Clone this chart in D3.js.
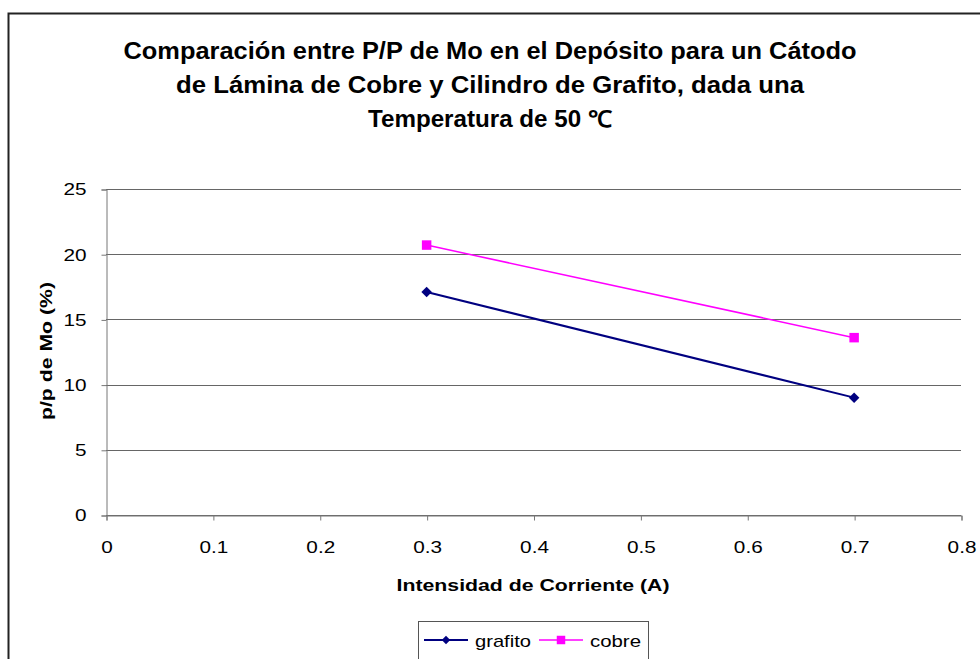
<!DOCTYPE html>
<html>
<head>
<meta charset="utf-8">
<script src="https://cdn.jsdelivr.net/npm/d3@7"></script>
<style>
  body { margin: 0; background: #fff; }
  svg { display: block; font-family: "Liberation Sans", Arial, sans-serif; }
</style>
</head>
<body>
<div id="chart"></div>
<script>
var corriente = [0.3, 0.7];
var grafito = [17.1, 9.0];
var cobre = [20.7, 13.6];
var seriesNames = ["grafito", "cobre"];
var titleLines = [
  "Comparación entre P/P de Mo en el Depósito para un Cátodo",
  "de Lámina de Cobre y Cilindro de Grafito, dada una",
  "Temperatura de 50 \u2103"
];
var titleWidths = [733, 628, 244];
var yTicks = [0, 5, 10, 15, 20, 25];
var xTicks = [0, 0.1, 0.2, 0.3, 0.4, 0.5, 0.6, 0.7, 0.8];

var width = 980, height = 659;
var svg = d3.select("#chart").append("svg")
  .attr("width", width)
  .attr("height", height);

// the reference text is drawn a bit wide, stretch glyphs to a given width
function fitWidth(sel, w) {
  sel.attr("textLength", w).attr("lengthAdjust", "spacingAndGlyphs");
}
function widen(sel, factor) {
  sel.each(function() {
    var w = this.getComputedTextLength();
    d3.select(this).attr("textLength", w * factor).attr("lengthAdjust", "spacingAndGlyphs");
  });
}

// outer chart frame (runs off the right and bottom edges)
svg.append("rect")
  .attr("x", 8.5).attr("y", 13.5)
  .attr("width", 1000).attr("height", 700)
  .style("fill", "none")
  .style("stroke", "#222")
  .style("stroke-width", 2);

// title
svg.append("g").selectAll("text")
  .data(titleLines)
  .enter().append("text")
  .attr("x", 490)
  .attr("y", function(d, i) { return 59 + i * 34; })
  .attr("text-anchor", "middle")
  .style("font-size", "23px")
  .style("font-weight", "bold")
  .attr("textLength", function(d, i) { return titleWidths[i]; })
  .attr("lengthAdjust", "spacingAndGlyphs")
  .text(function(d) { return d; });

var x = d3.scaleLinear().domain([0, 0.8]).range([106, 961]);
var y = d3.scaleLinear().domain([0, 25]).range([515, 189]);

// gridlines
svg.append("g").selectAll("line")
  .data(yTicks)
  .enter().append("line")
  .attr("x1", x(0)).attr("x2", x(0.8))
  .attr("y1", function(d) { return Math.round(y(d)) + 0.5; })
  .attr("y2", function(d) { return Math.round(y(d)) + 0.5; })
  .style("stroke", "#666")
  .style("stroke-width", 1);

// y axis
var yAxis = svg.append("g")
  .attr("transform", "translate(" + (x(0) + 0.5) + ",0.5)")
  .call(d3.axisLeft(y).tickValues(yTicks).tickSize(5).tickPadding(15).tickFormat(d3.format("d")));

// x axis
var xAxis = svg.append("g")
  .attr("transform", "translate(0.5," + (Math.round(y(0)) + 0.5) + ")")
  .call(d3.axisBottom(x).tickValues(xTicks).tickSize(5).tickPadding(20)
    .tickFormat(function(d) { return d === 0 ? "0" : d3.format(".1f")(d); }));

[yAxis, xAxis].forEach(function(a) {
  a.select(".domain").style("stroke", "#777");
  a.selectAll(".tick line").style("stroke", "#777");
  a.selectAll(".tick text")
    .style("font-family", "'Liberation Sans', Arial, sans-serif")
    .style("font-size", "17px")
    .style("fill", "#000")
    .call(widen, 1.22);
});

// axis titles
svg.append("text")
  .attr("transform", "translate(52,351) rotate(-90)")
  .attr("text-anchor", "middle")
  .style("font-size", "17px")
  .style("font-weight", "bold")
  .call(fitWidth, 138)
  .text("p/p de Mo (%)");

svg.append("text")
  .attr("x", 533).attr("y", 591)
  .attr("text-anchor", "middle")
  .style("font-size", "17px")
  .style("font-weight", "bold")
  .call(fitWidth, 273)
  .text("Intensidad de Corriente (A)");

// series: diamond is a square turned 45 degrees
var series = [
  { name: seriesNames[0], values: grafito, color: "#000080", width: 2, rot: 45, size: 55, legSize: 36, labelW: 56 },
  { name: seriesNames[1], values: cobre, color: "#FF00FF", width: 1.5, rot: 0, size: 90, legSize: 72, labelW: 51 }
];

var line = d3.line()
  .x(function(d) { return x(d.x); })
  .y(function(d) { return y(d.y); });

series.forEach(function(s) {
  var pts = corriente.map(function(c, i) { return { x: c, y: s.values[i] }; });
  svg.append("path")
    .datum(pts)
    .attr("d", line)
    .style("fill", "none")
    .style("stroke", s.color)
    .style("stroke-width", s.width);
  svg.append("g").selectAll("path")
    .data(pts)
    .enter().append("path")
    .attr("d", d3.symbol().type(d3.symbolSquare).size(s.size))
    .attr("transform", function(d) {
      return "translate(" + x(d.x) + "," + y(d.y) + ") rotate(" + s.rot + ")";
    })
    .style("fill", s.color);
});

// legend
var legend = svg.append("g");
legend.append("rect")
  .attr("x", 418.5).attr("y", 621.5)
  .attr("width", 230).attr("height", 50)
  .style("fill", "#fff")
  .style("stroke", "#555")
  .style("stroke-width", 1);

var legendX = [424, 539];
series.forEach(function(s, i) {
  var lx = legendX[i];
  legend.append("line")
    .attr("x1", lx).attr("x2", lx + 44)
    .attr("y1", 640).attr("y2", 640)
    .style("stroke", s.color)
    .style("stroke-width", s.width);
  legend.append("path")
    .attr("d", d3.symbol().type(d3.symbolSquare).size(s.legSize))
    .attr("transform", "translate(" + (lx + 22) + ",640) rotate(" + s.rot + ")")
    .style("fill", s.color);
  legend.append("text")
    .attr("x", lx + 51).attr("y", 647)
    .style("font-size", "17px")
    .call(fitWidth, s.labelW)
    .text(s.name);
});
</script>
</body>
</html>
